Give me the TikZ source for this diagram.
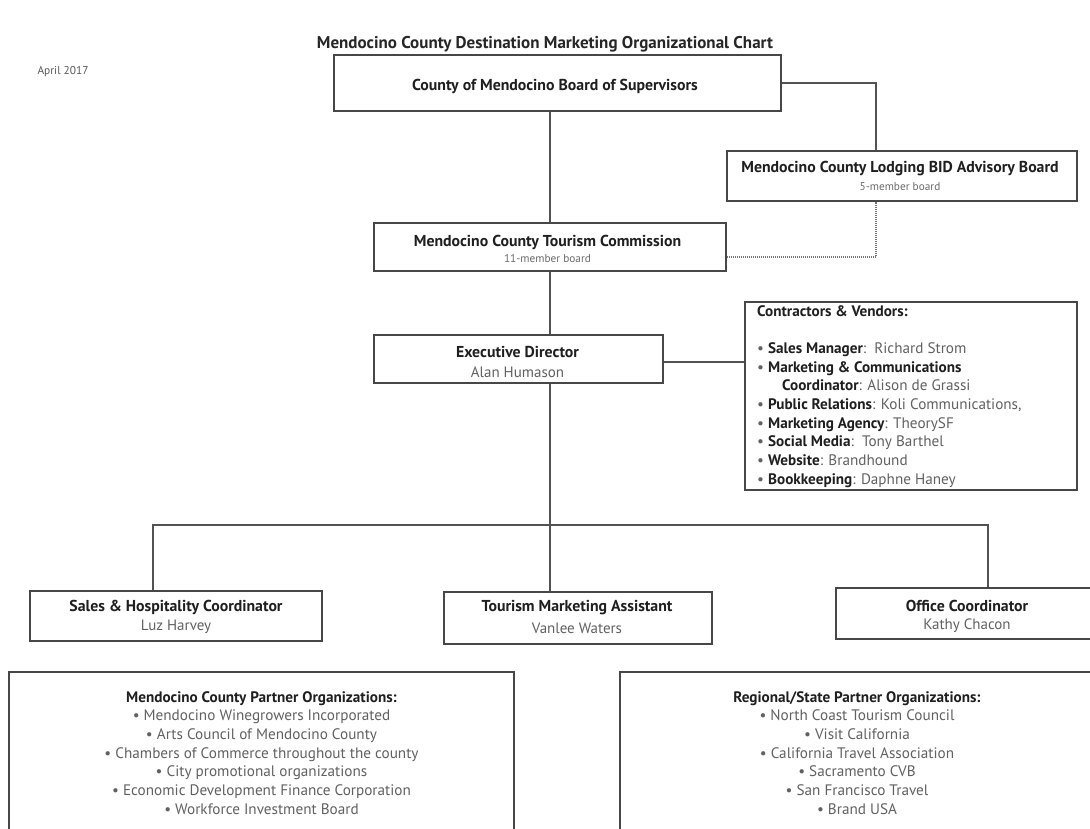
\documentclass[tikz,border=0pt]{standalone}
\usepackage{fontspec}
\setmainfont{PT Sans}
\usetikzlibrary{calc,shadows}
\begin{document}
\begin{tikzpicture}[x=1pt,y=-1pt,
  box/.style={draw=black!72, line width=1.3pt, fill=white, inner sep=0pt,
    drop shadow={opacity=0.18,shadow xshift=1.2pt,shadow yshift=-1.2pt}},
  ttl/.style={font=\fontsize{15.8}{18}\selectfont\bfseries, text=black!88, inner sep=0pt},
  nm/.style={font=\fontsize{15}{17}\selectfont, text=black!62, inner sep=0pt},
  sub/.style={font=\fontsize{11.3}{13}\selectfont, text=black!58, inner sep=0pt},
  conn/.style={draw=black!68, line width=1.3pt},
  dotconn/.style={draw=black!55, line width=1.3pt, dash pattern=on 1pt off 1pt},
  lst/.style={font=\fontsize{15.2}{18.7}\selectfont, text=black!62, inner sep=0pt},
  hb/.style={}
]
\useasboundingbox (0,0) rectangle (1090,828);
\fill[white] (0,0) rectangle (1090,828);

% title
\node[font=\fontsize{17}{19}\selectfont\bfseries, text=black!85, inner sep=0pt] (title) at (545,44) {Mendocino County Destination Marketing Organizational Chart};
\node[font=\fontsize{11.4}{13}\selectfont, text=black!65, inner sep=0pt] (date) at (63,72) {April 2017};

% named coordinates for connector columns
\coordinate (bidx) at (876,0);
\coordinate (busL) at (153,525);
\coordinate (busR) at (988,525);

% boxes
\node[box, minimum width=447pt, minimum height=56pt] (sup) at (557.5,83) {};
\node[box, minimum width=350pt, minimum height=50pt] (bid) at (902,176) {};
\node[box, minimum width=352pt, minimum height=48pt] (com) at (550,247) {};
\node[box, minimum width=289pt, minimum height=48pt] (exe) at (518.5,359) {};
\node[box, minimum width=332pt, minimum height=188pt] (con) at (911,396) {};
\node[box, minimum width=292pt, minimum height=50pt] (sal) at (176,616) {};
\node[box, minimum width=268pt, minimum height=52pt] (tma) at (578,618) {};
\node[box, minimum width=264pt, minimum height=51pt] (off) at (968,613.5) {};
\node[box, minimum width=505pt, minimum height=180pt] (par) at (261.5,762) {};
\node[box, minimum width=480pt, minimum height=180pt] (reg) at (860,762) {};

% box texts
\node[ttl] (supT) at (555,86) {County of Mendocino Board of Supervisors};
\node[ttl] (bidT) at (900,169) {Mendocino County Lodging BID Advisory Board};
\node[sub] (bidS) at (900,187) {5-member board};
\node[ttl] (comT) at (547.5,242) {Mendocino County Tourism Commission};
\node[sub] (comS) at (547.5,259) {11-member board};
\node[ttl] (exeT) at (517.5,352) {Executive Director};
\node[nm] (exeN) at (517.5,372) {Alan Humason};
\node[ttl] (salT) at (176,607) {Sales \& Hospitality Coordinator};
\node[nm] (salN) at (176,627) {Luz Harvey};
\node[ttl] (tmaT) at (577,608) {Tourism Marketing Assistant};
\node[nm] (tmaN) at (577,628) {Vanlee Waters};
\node[ttl] (offT) at (967,606) {Office Coordinator};
\node[nm] (offN) at (967,626) {Kathy Chacon};

\node[lst, anchor=north west, align=left] (conT) at (757,305) {%
{\bfseries\color{black!88}Contractors \& Vendors:}\\[18.7pt]
•\ {\bfseries\color{black!88}Sales Manager}:\ \ Richard Strom\\
•\ {\bfseries\color{black!88}Marketing \& Communications}\\
\hspace*{25pt}{\bfseries\color{black!88}Coordinator}: Alison de Grassi\\
•\ {\bfseries\color{black!88}Public Relations}: Koli Communications,\\
•\ {\bfseries\color{black!88}Marketing Agency}: TheorySF\\
•\ {\bfseries\color{black!88}Social Media}:\ \ Tony Barthel\\
•\ {\bfseries\color{black!88}Website}: Brandhound\\
•\ {\bfseries\color{black!88}Bookkeeping}: Daphne Haney};

\node[lst, anchor=north, align=center] (parT) at (261.5,691) {%
{\bfseries\color{black!88}Mendocino County Partner Organizations:}\\
• Mendocino Winegrowers Incorporated\\
• Arts Council of Mendocino County\\
• Chambers of Commerce throughout the county\\
• City promotional organizations\\
• Economic Development Finance Corporation\\
• Workforce Investment Board};

\node[lst, anchor=north, align=center] (regT) at (857,691) {%
{\bfseries\color{black!88}Regional/State Partner Organizations:}\\
• North Coast Tourism Council\\
• Visit California\\
• California Travel Association\\
• Sacramento CVB\\
• San Francisco Travel\\
• Brand USA};

% connectors
\draw[conn] (com.north |- sup.south) -- (com.north);
\draw[conn] (sup.east) -| (bidx |- bid.north);
\draw[dotconn] ([yshift=-10pt]com.east) -| (bidx |- bid.south);
\draw[conn] (com.north |- com.south) -- (com.north |- exe.north);
\draw[conn] ([yshift=-3pt]exe.east) -- ([yshift=-3pt]exe.east -| con.west);
\draw[conn] (com.north |- exe.south) -- (com.north |- tma.north);
\draw[conn] (busL |- sal.north) -- (busL) -- (busR) -- (busR |- off.north);
\end{tikzpicture}
\end{document}
